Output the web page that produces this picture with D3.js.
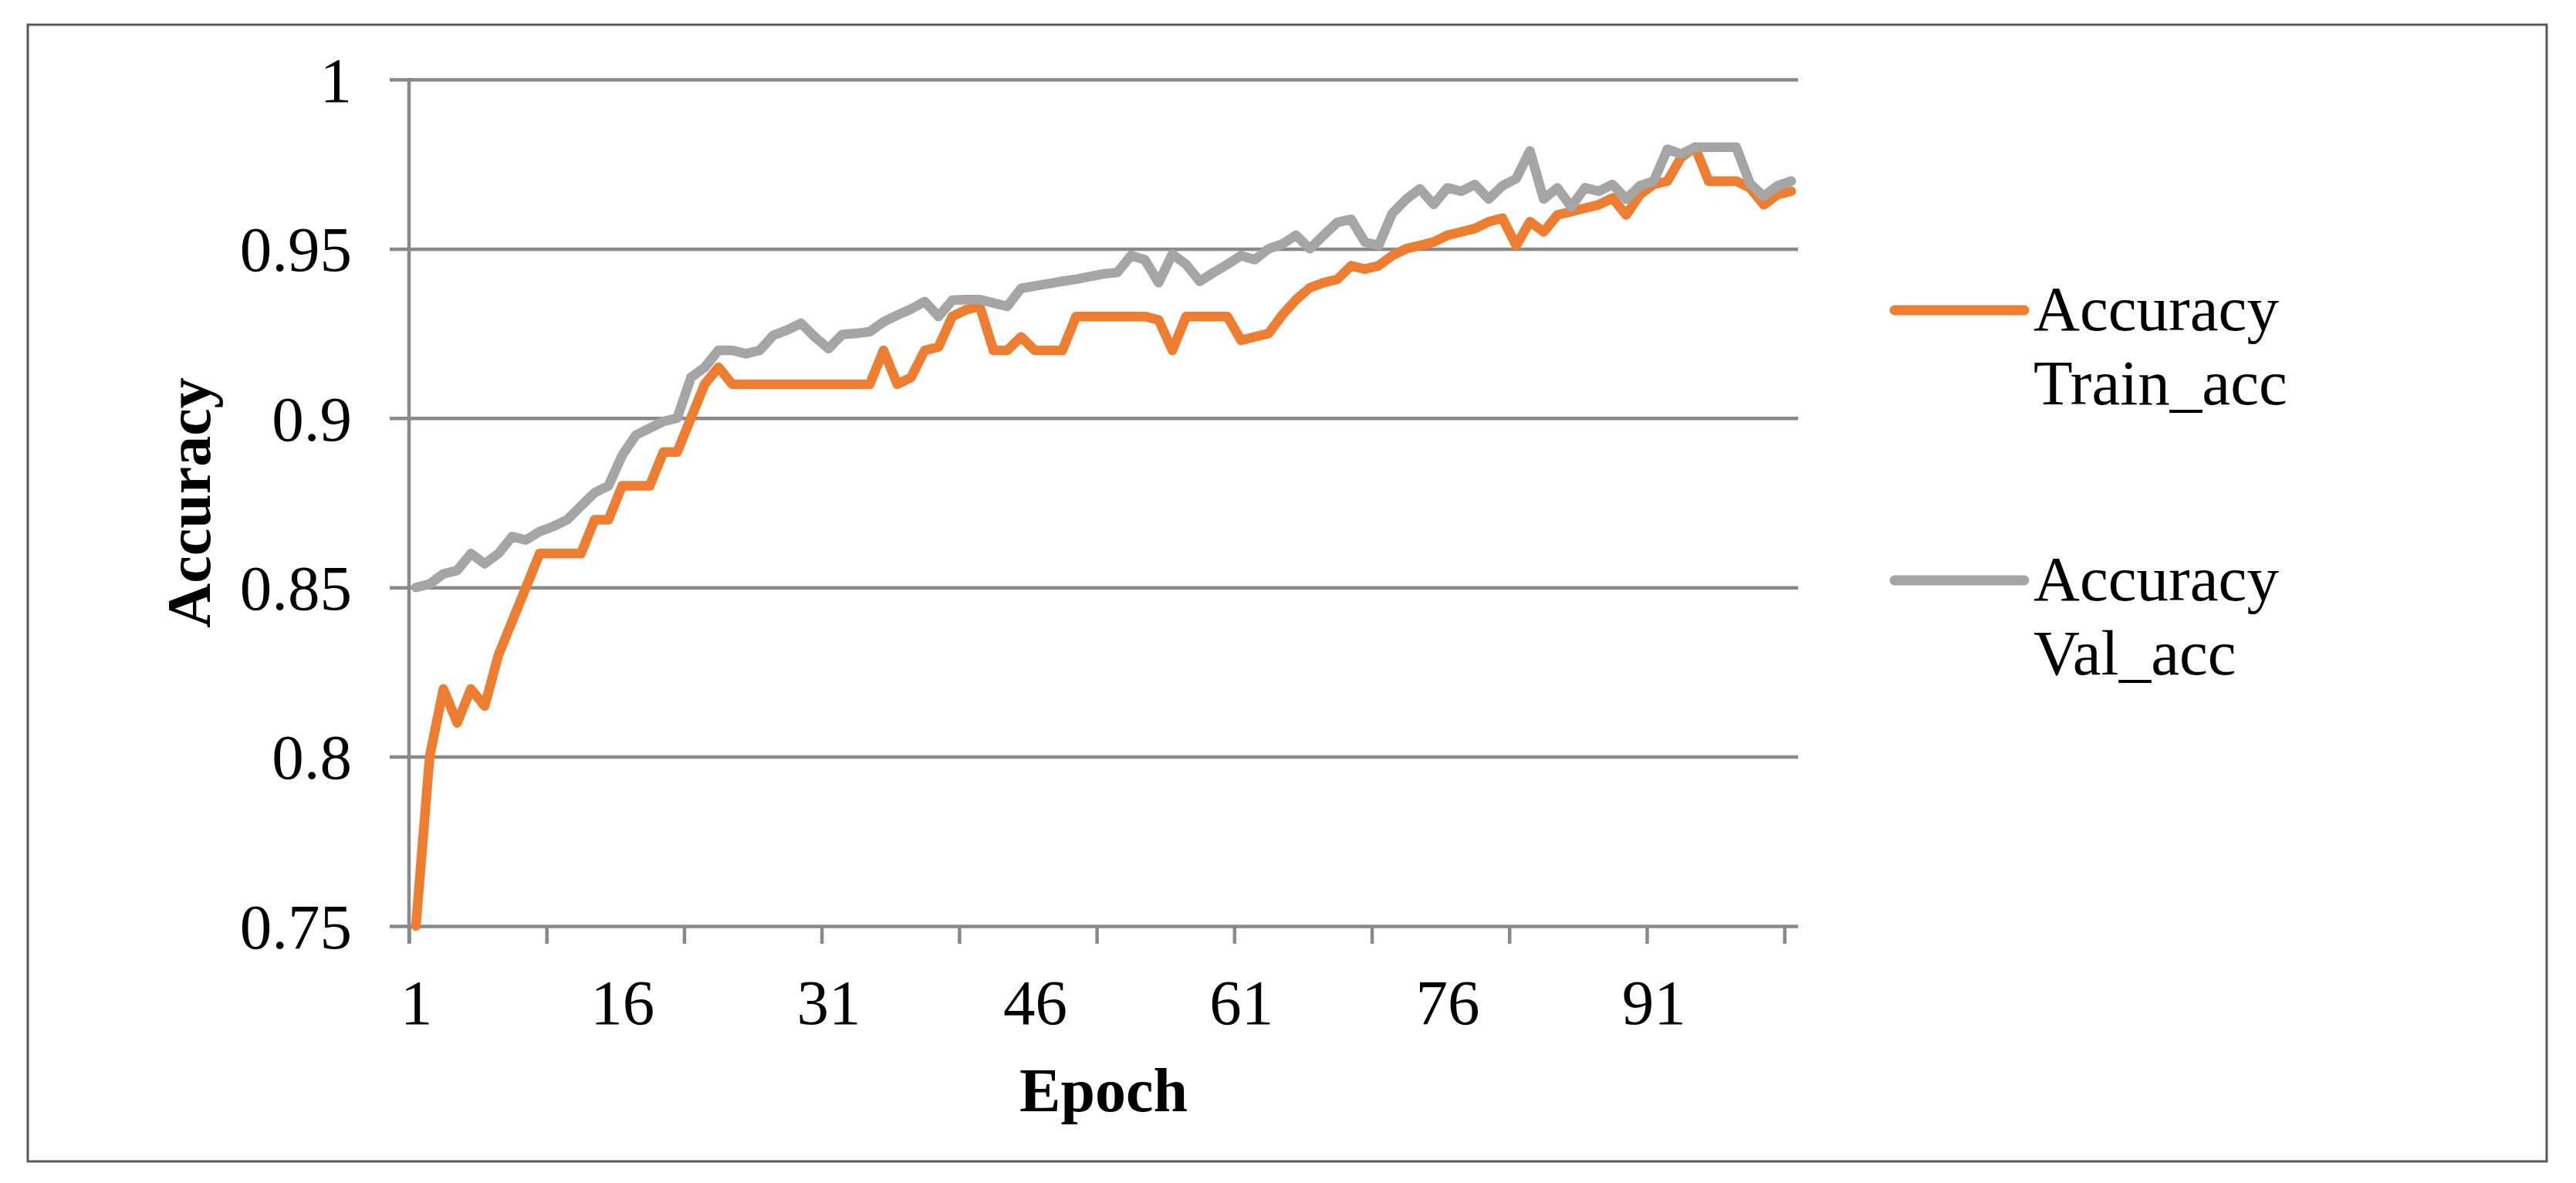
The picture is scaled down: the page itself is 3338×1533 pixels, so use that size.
<!DOCTYPE html>
<html>
<head>
<meta charset="utf-8">
<script src="https://cdnjs.cloudflare.com/ajax/libs/d3/7.8.5/d3.min.js"></script>
<style>
  html, body { margin: 0; padding: 0; background: #ffffff; }
  svg { display: block; }
  text { font-family: "Liberation Serif", "Times New Roman", serif; fill: #000; }
</style>
</head>
<body>
<svg id="chart" width="3338" height="1533"></svg>
<script>
// ---- Data ----
const epochs = [1,2,3,4,5,6,7,8,9,10,11,12,13,14,15,16,17,18,19,20,
  21,22,23,24,25,26,27,28,29,30,31,32,33,34,35,36,37,38,39,40,
  41,42,43,44,45,46,47,48,49,50,51,52,53,54,55,56,57,58,59,60,
  61,62,63,64,65,66,67,68,69,70,71,72,73,74,75,76,77,78,79,80,
  81,82,83,84,85,86,87,88,89,90,91,92,93,94,95,96,97,98,99,100,101];

const trainAcc = [0.75,0.80,0.82,0.81,0.82,0.815,0.83,0.84,0.85,0.86,
  0.86,0.86,0.86,0.87,0.87,0.88,0.88,0.88,0.89,0.89,
  0.90,0.91,0.915,0.91,0.91,0.91,0.91,0.91,0.91,0.91,
  0.91,0.91,0.91,0.91,0.92,0.91,0.912,0.92,0.921,0.93,
  0.932,0.933,0.92,0.92,0.924,0.92,0.92,0.92,0.93,0.93,
  0.93,0.93,0.93,0.93,0.929,0.92,0.93,0.93,0.93,0.93,
  0.923,0.924,0.925,0.9305,0.935,0.9385,0.94,0.941,0.945,0.944,
  0.945,0.948,0.950,0.951,0.952,0.954,0.955,0.956,0.958,0.959,
  0.951,0.958,0.955,0.960,0.961,0.962,0.963,0.965,0.960,0.966,
  0.969,0.970,0.977,0.980,0.970,0.970,0.970,0.968,0.963,0.966,0.967];

const valAcc = [0.85,0.851,0.854,0.855,0.86,0.857,0.86,0.865,0.864,0.8665,
  0.868,0.87,0.874,0.878,0.880,0.889,0.895,0.897,0.899,0.90,
  0.912,0.915,0.920,0.920,0.919,0.920,0.9245,0.926,0.928,0.924,
  0.9205,0.9247,0.925,0.9255,0.9284,0.9304,0.9322,0.9344,0.930,0.9348,
  0.935,0.935,0.934,0.933,0.9383,0.939,0.9397,0.9404,0.941,0.9418,
  0.9426,0.943,0.948,0.9468,0.940,0.9484,0.9454,0.9404,0.943,0.9454,
  0.948,0.9468,0.950,0.9514,0.954,0.950,0.954,0.9578,0.9587,0.952,
  0.951,0.9605,0.9646,0.9677,0.9631,0.968,0.967,0.969,0.9647,0.9686,
  0.9707,0.9789,0.9647,0.968,0.9624,0.968,0.967,0.969,0.9647,0.9686,
  0.970,0.9794,0.978,0.980,0.980,0.980,0.980,0.9693,0.9655,0.9686,0.970];

const seriesNames = [["Accuracy", "Train_acc"], ["Accuracy", "Val_acc"]];
const seriesColors = ["#ED7D31", "#A5A5A5"];

const yTicks = [0.75, 0.8, 0.85, 0.9, 0.95, 1];
const yTickLabels = ["0.75", "0.8", "0.85", "0.9", "0.95", "1"];
const xLabelEpochs = [1, 16, 31, 46, 61, 76, 91];
const xTickMarkEpochs = [0.5, 10.5, 20.5, 30.5, 40.5, 50.5, 60.5, 70.5, 80.5, 90.5, 100.5];

const xTitle = "Epoch";
const yTitle = "Accuracy";

// ---- Layout ----
const svg = d3.select("#chart");
const plotLeft = 530, plotRight = 2330, plotTop = 103, plotBottom = 1200;
const gridColor = "#898989";

svg.append("rect")
  .attr("x", 36).attr("y", 32).attr("width", 3264).attr("height", 1473)
  .attr("fill", "none").attr("stroke", "#595959").attr("stroke-width", 3);

const x = d3.scaleLinear().domain([0.5, epochs.length + 0.5]).range([plotLeft, plotRight]);
const y = d3.scaleLinear().domain([0.75, 1]).range([plotBottom, plotTop]);

// Y axis with gridlines
const yAxis = d3.axisLeft(y)
  .tickValues(yTicks)
  .tickSize(25)
  .tickPadding(49)
  .tickFormat((d, i) => yTickLabels[i]);

const gy = svg.append("g").attr("transform", `translate(${plotLeft},0)`).call(yAxis);
gy.select(".domain").remove();
gy.selectAll(".tick line")
  .attr("x1", plotRight - plotLeft)
  .attr("stroke", gridColor).attr("stroke-width", 4.5);
gy.selectAll(".tick text")
  .attr("font-family", "Liberation Serif, Times New Roman, serif")
  .attr("font-size", 83).attr("fill", "#000")
  .attr("dy", "0.34em");

// X axis tick marks (every 10 categories)
const xTickAxis = d3.axisBottom(x).tickValues(xTickMarkEpochs).tickSize(23).tickFormat("");
const gxt = svg.append("g").attr("transform", `translate(0,${plotBottom})`).call(xTickAxis);
gxt.select(".domain").remove();
gxt.selectAll(".tick line").attr("stroke", gridColor).attr("stroke-width", 4.5);

// X axis labels (every 15 categories)
const xLabelAxis = d3.axisBottom(x).tickValues(xLabelEpochs).tickSize(0).tickFormat(d => String(d));
const gxl = svg.append("g").attr("transform", `translate(0,${plotBottom})`).call(xLabelAxis);
gxl.select(".domain").remove();
gxl.selectAll(".tick text")
  .attr("font-family", "Liberation Serif, Times New Roman, serif")
  .attr("font-size", 83).attr("fill", "#000")
  .attr("y", 127).attr("dy", null);

// Axis lines
svg.append("line")
  .attr("x1", plotLeft).attr("x2", plotLeft)
  .attr("y1", plotTop - 2).attr("y2", plotBottom + 23)
  .attr("stroke", gridColor).attr("stroke-width", 4.5);

// Series lines
const line = d3.line().x((d, i) => x(epochs[i])).y(d => y(d));
[trainAcc, valAcc].forEach((s, k) => {});
// draw val first? In reference the orange line sits behind gray at overlaps near the end
svg.append("path").datum(trainAcc)
  .attr("d", line).attr("fill", "none")
  .attr("stroke", seriesColors[0]).attr("stroke-width", 12.5)
  .attr("stroke-linejoin", "round").attr("stroke-linecap", "round");
svg.append("path").datum(valAcc)
  .attr("d", line).attr("fill", "none")
  .attr("stroke", seriesColors[1]).attr("stroke-width", 12.5)
  .attr("stroke-linejoin", "round").attr("stroke-linecap", "round");

// Axis titles
svg.append("text")
  .attr("x", (plotLeft + plotRight) / 2).attr("y", 1440)
  .attr("text-anchor", "middle")
  .attr("font-size", 80).attr("font-weight", "bold")
  .text(xTitle);

svg.append("text")
  .attr("transform", `translate(272,${(plotTop + plotBottom) / 2}) rotate(-90)`)
  .attr("text-anchor", "middle")
  .attr("font-size", 80).attr("font-weight", "bold")
  .text(yTitle);

// Legend
const legendY = [402, 752];
seriesNames.forEach((lines, k) => {
  const g = svg.append("g");
  g.append("line")
    .attr("x1", 2455).attr("x2", 2623)
    .attr("y1", legendY[k]).attr("y2", legendY[k])
    .attr("stroke", seriesColors[k]).attr("stroke-width", 13)
    .attr("stroke-linecap", "round");
  lines.forEach((t, j) => {
    g.append("text")
      .attr("x", 2635).attr("y", legendY[k] + 26 + j * 96)
      .attr("font-size", 83)
      .text(t);
  });
});
</script>
</body>
</html>
